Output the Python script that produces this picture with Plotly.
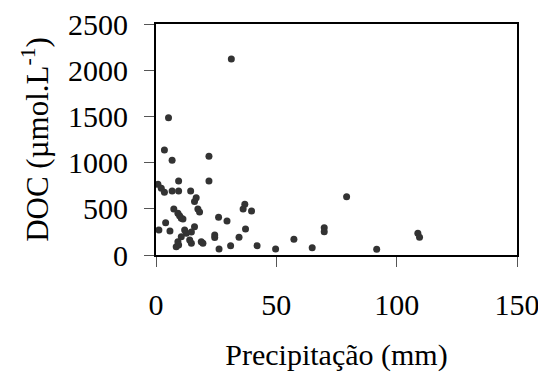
import plotly.graph_objects as go

precip = [31.3, 5.2, 3.5, 6.7, 22.0, 22.0, 9.4, 0.8, 2.2, 3.5, 6.7, 9.4, 14.4,
          16.7, 16.0, 17.4, 18.1, 7.4, 9.1, 9.8, 11.2, 10.5, 4.0, 1.2, 5.8, 11.9,
          12.6, 16.0, 14.7, 10.5, 9.1, 8.4, 9.4, 14.0, 14.7, 18.8, 19.5, 24.4,
          24.4, 26.0, 29.5, 36.9, 36.2, 39.7, 37.2, 34.5, 26.2, 31.0, 42.0,
          49.7, 79.2, 57.3, 64.9, 69.9, 69.9, 91.7, 108.8, 109.5]
doc = [2120, 1486, 1136, 1025, 1068, 800, 800, 765, 722, 680, 692, 692, 692,
       620, 580, 498, 465, 498, 451, 425, 390, 397, 350, 270, 260, 270,
       235, 306, 250, 198, 144, 90, 108, 162, 127, 144, 127, 216,
       190, 408, 368, 549, 498, 476, 281, 192, 65, 101, 101,
       65, 631, 170, 79, 295, 252, 62, 235, 192]

x_ticks = [0, 50, 100, 150]
y_ticks = [0, 500, 1000, 1500, 2000, 2500]

FONT = "Liberation Serif"

fig = go.Figure(go.Scatter(
    x=precip, y=doc, mode="markers",
    marker=dict(size=7, color="#333333"),
))

# the page body adds an 8px offset, so margins are compensated
fig.update_layout(
    width=546, height=381,
    margin=dict(l=148, r=37, t=16, b=134, autoexpand=False),
    paper_bgcolor="white", plot_bgcolor="white",
    showlegend=False,
    font=dict(family=FONT, size=30, color="black"),
)
fig.update_xaxes(
    range=[0, 150], tickvals=x_ticks, ticktext=[str(v) for v in x_ticks],
    showgrid=False, zeroline=False, automargin=False,
    showline=True, linecolor="black", linewidth=2, mirror=True,
    ticks="outside", ticklen=10, tickcolor="#555555", tickwidth=1,
    ticklabelstandoff=12, ticklabeloverflow="allow",
    title=dict(text="Precipitação (mm)", standoff=24, font=dict(family=FONT, size=30)),
)
fig.update_yaxes(
    range=[0, 2500], tickvals=y_ticks, ticktext=[str(v) for v in y_ticks],
    showgrid=False, zeroline=False, automargin=False,
    showline=True, linecolor="black", linewidth=2, mirror=True,
    ticks="outside", ticklen=10, tickcolor="#555555", tickwidth=1,
    ticklabelstandoff=10, ticklabeloverflow="allow",
    title=dict(text="DOC (µmol.L<sup>-1</sup>)", standoff=10, font=dict(family=FONT, size=31)),
)

fig.write_html("out.html")
